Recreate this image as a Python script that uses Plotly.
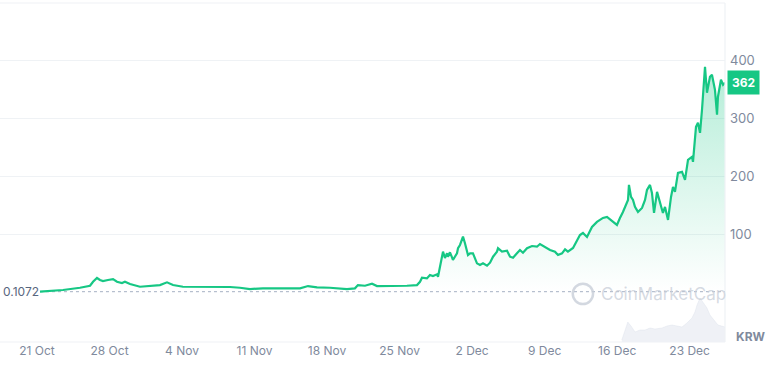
import pandas as pd
import plotly.graph_objects as go

# ---- data ----
start_date = "2024-10-21"
# days since 21 Oct
price_days = [0.29, 2.51, 4.15, 5.12, 5.41, 5.79, 6.08, 6.37, 6.85, 7.34, 7.72, 8.2, 8.49, 8.98,
              9.94, 10.91, 11.87, 12.55, 13.13, 14.09, 15.44, 16.99, 18.63, 19.59, 20.56, 21.81,
              24.13, 25.39, 26.16, 27.03, 28.28, 29.92, 30.69, 30.98, 31.66, 32.34, 32.82, 34.36,
              35.71, 36.68, 36.97, 37.16, 37.45, 37.64, 37.93, 38.22, 38.61, 38.71, 38.9, 39.19,
              39.38, 39.58, 39.67, 39.86, 40.06, 40.15, 40.54, 40.64, 40.83, 41.02, 41.12, 41.31,
              41.51, 41.6, 41.8, 42.08, 42.47, 42.76, 43.05, 43.44, 43.73, 44.02, 44.4, 44.5,
              44.88, 45.37, 45.66, 45.95, 46.33, 46.62, 46.91, 47.3, 47.78, 48.26, 48.55, 48.84,
              49.52, 50.0, 50.29, 50.68, 50.97, 51.25, 51.74, 52.41, 52.7, 53.09, 53.57, 54.05,
              54.63, 55.02, 55.6, 55.98, 56.27, 56.56, 57.05, 57.14, 57.34, 57.53, 57.72, 58.01,
              58.4, 58.69, 58.88, 59.17, 59.36, 59.56, 59.85, 60.14, 60.42, 60.62, 60.91, 61.2,
              61.39, 61.58, 61.87, 62.26, 62.55, 62.84, 63.22, 63.32, 63.61, 63.8, 64.0, 64.19,
              64.38, 64.48, 64.67, 64.96, 65.15, 65.44, 65.64, 65.73, 66.02, 66.22, 66.41]
price_krw = [0.1072, 3.0, 6.9, 10.4, 17.3, 23.8, 20.3, 18.6, 20.3, 22.0, 17.3, 15.1, 17.3, 13.4,
             8.7, 10.4, 11.6, 16.3, 11.6, 8.7, 8.7, 8.2, 8.2, 6.9, 4.7, 5.9,
             5.9, 5.9, 9.9, 7.6, 6.9, 4.7, 5.9, 11.6, 10.4, 13.9, 9.9, 9.9,
             10.4, 11.6, 17.3, 24.3, 23.2, 23.2, 29.0, 27.2, 30.2, 26.0, 43.4, 69.4,
             58.4, 66.6, 60.7, 68.3, 59.6, 55.0, 66.6, 75.3, 81.0, 92.6, 95.4, 83.9,
             72.3, 63.6, 66.6, 66.6, 49.2, 46.3, 49.2, 45.1, 50.3, 60.7, 69.4, 75.3,
             69.4, 71.1, 60.7, 59.0, 66.6, 72.3, 67.6, 75.3, 79.2, 78.0, 82.7, 79.2,
             72.3, 69.4, 63.6, 66.6, 73.5, 69.4, 75.8, 98.3, 101.8, 94.9, 112.2, 120.9,
             127.8, 129.5, 120.9, 115.7, 127.8, 138.2, 159.0, 185.0, 164.2, 159.0, 146.9, 138.2,
             145.1, 159.0, 176.3, 185.0, 171.1, 136.5, 172.9, 153.8, 136.5, 146.9, 124.3, 164.2,
             181.6, 172.9, 205.8, 207.6, 193.7, 228.4, 233.6, 224.9, 285.6, 292.5, 275.2, 315.1,
             379.2, 389.6, 344.6, 372.3, 375.8, 349.8, 306.5, 337.7, 367.2, 358.5, 362.0]

volume_days = [56.45, 56.74, 57.03, 57.41, 57.72, 58.2, 58.69, 59.17, 59.65, 60.33, 60.81,
               61.29, 61.78, 62.26, 62.74, 63.22, 63.51, 63.71, 64.0, 64.29, 64.67, 64.96,
               65.44, 65.73, 66.41]
volume_vals = [2, 12, 20, 15, 10, 12, 12, 14, 13, 14, 16, 17, 16, 15, 19, 24, 30, 37, 44, 40,
               34, 27, 20, 17, 15]

tick_dates = ["2024-10-21", "2024-10-28", "2024-11-04", "2024-11-11", "2024-11-18",
              "2024-11-25", "2024-12-02", "2024-12-09", "2024-12-16", "2024-12-23"]
tick_text = ["21 Oct", "28 Oct", "4 Nov", "11 Nov", "18 Nov", "25 Nov", "2 Dec", "9 Dec",
             "16 Dec", "23 Dec"]
y_ticks = [100, 200, 300, 400]
open_price = 0.1072
last_price = 362

# ---- build ----
t0 = pd.Timestamp(start_date)
px = [t0 + pd.to_timedelta(d, unit="D") for d in price_days]
vx = [t0 + pd.to_timedelta(d, unit="D") for d in volume_days]

GREEN = "#16c784"
GRAY = "#808a9d"
GRID = "#eff2f5"

fig = go.Figure()

fig.add_trace(go.Scatter(
    x=vx, y=volume_vals, yaxis="y2", mode="lines",
    line=dict(color="rgba(207,214,228,0.6)", width=0.5),
    fill="tozeroy", fillcolor="rgba(220,225,234,0.45)", hoverinfo="skip"))

fig.add_trace(go.Scatter(
    x=[px[0], px[-1]], y=[open_price, open_price], mode="lines",
    line=dict(color="#a6b0c3", width=1, dash="dot"), hoverinfo="skip"))

fig.add_trace(go.Scatter(
    x=px, y=price_krw, mode="lines",
    line=dict(color=GREEN, width=2.2),
    fill="tozeroy",
    fillgradient=dict(type="vertical",
                      colorscale=[[0, "rgba(22,199,132,0.0)"], [1, "rgba(22,199,132,0.32)"]]),
    hoverinfo="skip"))

x_lo = t0 - pd.to_timedelta(3.57, unit="D")
x_hi = t0 + pd.to_timedelta(66.41, unit="D")

fig.update_layout(
    width=773, height=378,
    margin=dict(l=0, r=48, t=3, b=36),
    paper_bgcolor="white", plot_bgcolor="white",
    showlegend=False,
    font=dict(family="Inter, Roboto, sans-serif", color=GRAY, size=12),
    xaxis=dict(range=[x_lo, x_hi], tickvals=[pd.Timestamp(d) for d in tick_dates],
               ticktext=tick_text, showgrid=False, zeroline=False, showline=False,
               ticks="", tickfont=dict(size=12, color=GRAY)),
    yaxis=dict(range=[-87, 500], side="right", tickvals=y_ticks,
               showgrid=True, gridcolor=GRID, gridwidth=1, zeroline=False,
               ticks="", ticklabelstandoff=4, tickfont=dict(size=13, color=GRAY)),
    yaxis2=dict(range=[0, 339], overlaying="y", visible=False),
)

# frame lines (top, bottom, right)
for shp in [dict(x0=0, x1=1, y0=1, y1=1), dict(x0=0, x1=1, y0=0, y1=0), dict(x0=1, x1=1, y0=0, y1=1)]:
    fig.add_shape(type="line", xref="paper", yref="paper", line=dict(color=GRID, width=1.2), **shp)

# watermark
fig.add_shape(type="circle", xref="paper", yref="paper",
              x0=0.790, x1=0.818, y0=0.112, y1=0.172,
              line=dict(color="rgba(200,206,216,0.8)", width=2.5))
fig.add_annotation(xref="paper", yref="paper", x=0.826, y=0.142, xanchor="left", yanchor="middle",
                   text="CoinMarketCap", showarrow=False,
                   font=dict(size=17, color="rgba(200,206,216,0.75)", family="Inter, sans-serif"))

# open price label
fig.add_annotation(xref="paper", yref="y", x=0.0, y=open_price, xanchor="left", yanchor="middle",
                   xshift=1, text="0.1072", showarrow=False,
                   font=dict(size=12, color="#58667e"))

# last price badge
fig.add_annotation(xref="paper", yref="y", x=1, y=last_price, xanchor="left", yanchor="middle",
                   xshift=2, text="<b>%d</b>" % last_price, showarrow=False,
                   bgcolor=GREEN, borderpad=4, font=dict(size=12, color="white"))

# currency label
fig.add_annotation(xref="paper", yref="paper", x=1, y=0.015, xanchor="left", yanchor="middle",
                   xshift=9, text="<b>KRW</b>", showarrow=False,
                   font=dict(size=12, color=GRAY))

fig.write_html("out.html", config={"displayModeBar": False},
               post_script="document.body.style.margin='0';")
